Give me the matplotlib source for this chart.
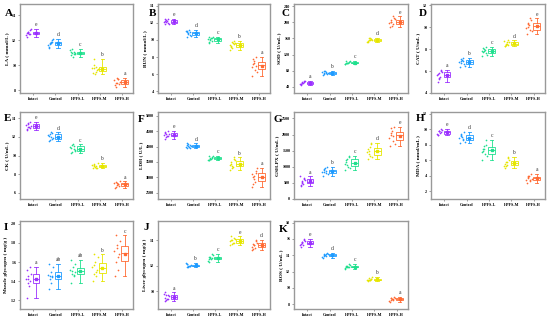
import matplotlib
matplotlib.use('Agg')
import matplotlib.pyplot as plt
import numpy as np

plt.rcParams['font.family'] = ['Liberation Serif', 'DejaVu Serif']
plt.rcParams['font.weight'] = 'bold'

groups = ['Intact', 'Control', 'HPFS-L', 'HPFS-M', 'HPFS-H']
colors = ['#9B30FF', '#1E9BFF', '#1FE08E', '#E6E600', '#FF6A33']

# values per panel, one list per group
la = [[12.3, 12.5, 12.6, 12.8, 12.4, 12.7, 12.9, 12.6, 12.5, 12.7],
      [11.5, 11.9, 11.7, 12.0, 11.6, 11.8, 12.1, 11.4, 11.9, 11.8],
      [10.8, 11.1, 11.0, 10.9, 11.2, 10.7, 11.0, 11.1, 10.9, 11.3],
      [9.4, 9.9, 10.5, 9.6, 9.8, 9.3, 9.7, 10.0, 9.5, 9.8],
      [8.4, 8.9, 8.6, 8.5, 8.8, 9.0, 8.7, 8.3, 8.9, 8.6]]
bun = [[11.9, 12.2, 12.4, 12.0, 12.1, 12.3, 11.9, 12.2, 12.5, 12.1],
       [10.4, 11.2, 10.9, 10.6, 11.0, 10.7, 10.5, 11.1, 10.9, 10.8],
       [9.8, 10.2, 10.4, 9.9, 10.1, 10.0, 10.3, 9.7, 10.2, 10.1],
       [8.8, 9.6, 9.2, 9.9, 9.4, 9.0, 9.7, 9.3, 9.5, 9.8],
       [5.8, 6.5, 7.2, 8.0, 6.8, 7.5, 6.2, 7.8, 6.9, 7.3]]
sod = [[44, 48, 52, 55, 47, 50, 53, 46, 51, 49],
       [70, 74, 78, 72, 76, 80, 73, 75, 77, 71],
       [96, 99, 103, 101, 97, 100, 104, 98, 102, 100],
       [150, 155, 160, 158, 152, 162, 156, 154, 159, 157],
       [188, 195, 205, 212, 198, 192, 208, 200, 215, 202]]
cat = [[5.0, 5.5, 5.8, 6.0, 5.6, 5.3, 5.9, 5.7, 6.1, 5.4],
       [6.4, 6.9, 7.1, 6.6, 6.8, 7.0, 6.5, 6.9, 7.2, 6.7],
       [7.4, 7.9, 8.1, 7.6, 7.8, 8.0, 7.5, 7.7, 8.2, 7.8],
       [8.3, 8.6, 8.5, 8.4, 8.7, 8.5, 8.6, 8.3, 8.8, 8.4],
       [9.4, 9.7, 10.3, 10.6, 9.9, 10.2, 9.6, 10.4, 10.8, 10.0]]
ck = [[12.8, 13.1, 13.4, 13.0, 13.3, 13.5, 13.2, 12.9, 13.6, 13.1],
      [11.6, 12.0, 12.3, 11.8, 12.2, 12.5, 11.9, 12.1, 12.4, 11.7],
      [10.3, 10.7, 11.1, 10.5, 10.9, 11.2, 10.6, 10.8, 11.0, 10.4],
      [8.6, 8.9, 9.1, 8.7, 9.0, 8.8, 9.2, 8.9, 8.6, 9.0],
      [6.5, 6.9, 7.1, 6.7, 7.0, 6.8, 7.2, 6.6, 6.9, 7.0]]
ldh = [[4250, 4350, 4450, 4500, 4380, 4300, 4420, 4480, 4350, 4400],
       [3950, 4000, 4100, 4050, 3980, 4080, 4020, 4060, 3960, 4030],
       [3550, 3600, 3680, 3650, 3580, 3620, 3700, 3570, 3640, 3610],
       [3250, 3350, 3500, 3650, 3400, 3300, 3550, 3450, 3600, 3380],
       [2700, 2850, 3000, 3200, 3100, 2950, 3300, 2800, 3150, 3050]]
gsh = [[400, 480, 550, 620, 700, 500, 580, 450, 650, 530],
       [700, 800, 900, 1000, 850, 950, 780, 920, 870, 830],
       [900, 1000, 1200, 1350, 1100, 1250, 950, 1150, 1300, 1050],
       [1250, 1350, 1500, 1700, 1450, 1600, 1300, 1550, 1750, 1400],
       [1650, 1800, 2000, 2250, 1900, 2100, 1700, 2200, 1950, 2050]]
mda = [[9.2, 9.5, 9.8, 10.0, 9.4, 9.7, 9.9, 9.3, 9.6, 9.8],
       [8.2, 8.6, 9.2, 9.6, 8.8, 9.0, 8.4, 9.4, 8.7, 9.1],
       [6.0, 6.8, 7.4, 8.6, 7.0, 7.8, 6.5, 7.2, 8.0, 7.5],
       [5.0, 5.4, 5.8, 6.3, 5.2, 5.7, 6.0, 5.5, 6.4, 5.3],
       [3.1, 3.4, 3.8, 4.2, 3.5, 3.9, 3.6, 4.0, 3.3, 3.7]]
muscle = [[1.22, 1.35, 1.38, 1.40, 1.42, 1.45, 1.48, 1.52, 1.55, 1.42],
          [1.32, 1.38, 1.42, 1.45, 1.47, 1.50, 1.55, 1.58, 1.44, 1.46],
          [1.38, 1.45, 1.48, 1.50, 1.52, 1.55, 1.58, 1.62, 1.47, 1.51],
          [1.40, 1.45, 1.48, 1.52, 1.55, 1.60, 1.65, 1.68, 1.50, 1.57],
          [1.46, 1.52, 1.60, 1.68, 1.72, 1.78, 1.82, 1.88, 1.65, 1.75]]
liver = [[9.2, 9.4, 9.5, 9.7, 9.8, 9.3, 9.6, 9.9, 9.4, 9.7],
         [11.9, 12.0, 12.1, 12.0, 12.2, 11.95, 12.05, 12.1, 12.0, 11.9],
         [12.3, 12.5, 12.7, 12.9, 12.4, 12.6, 12.8, 12.5, 12.6, 12.7],
         [13.6, 13.8, 14.0, 14.2, 13.9, 13.7, 14.1, 14.3, 13.8, 14.0],
         [13.2, 13.4, 13.7, 13.9, 13.5, 13.6, 13.8, 13.3, 14.0, 13.6]]
ros = [[15.0, 15.3, 15.6, 15.9, 15.2, 15.5, 15.8, 15.4, 16.0, 15.6],
       [13.7, 13.9, 14.1, 14.3, 13.8, 14.0, 14.2, 13.9, 14.1, 14.0],
       [12.3, 12.5, 12.7, 12.9, 12.4, 12.6, 12.8, 12.5, 12.6, 12.7],
       [10.8, 11.0, 11.2, 11.1, 10.9, 11.0, 11.3, 10.9, 11.1, 11.0],
       [8.3, 8.5, 8.7, 8.9, 8.4, 8.6, 8.8, 8.5, 8.6, 8.7]]

# letters of significance
sig_desc = ['e', 'd', 'c', 'b', 'a']
sig_asc = ['a', 'b', 'c', 'd', 'e']

panels = [
    ('A', la, 'LA ( mmol/L )', (7.8, 14.9), [8, 10, 12, 14], sig_desc),
    ('B', bun, 'BUN ( mmol/L )', (3.8, 14.2), [4, 6, 8, 10, 12, 14], sig_desc),
    ('C', sod, 'SOD ( U/mL )', (24, 246), [40, 80, 120, 160, 200, 240], sig_asc),
    ('D', cat, 'CAT ( U/mL )', (4.2, 12.1), [4, 6, 8, 10, 12], sig_asc),
    ('E', ck, 'CK ( U/mL )', (5.3, 14.7), [6, 8, 10, 12, 14], sig_desc),
    ('F', ldh, 'LDH ( U/L )', (2300, 5120), [2500, 3000, 3500, 4000, 4500, 5000], sig_desc),
    ('G', gsh, 'GSH-PX ( U/mL )', (0, 2700), [0, 500, 1000, 1500, 2000, 2500], sig_asc),
    ('H', mda, 'MDA ( nmol/mL )', (1.0, 12.2), [2, 4, 6, 8, 10, 12], sig_desc),
    ('I', muscle, 'Muscle glycogen ( mg/g )', (1.11, 2.03), [1.2, 1.4, 1.6, 1.8, 2.0],
     ['a', 'ab', 'ab', 'b', 'c']),
    ('J', liver, 'Liver glycogen ( mg/g )', (8.6, 15.5), [10, 12, 14], ['a', 'b', 'c', 'e', 'd']),
    ('K', ros, 'ROS ( U/mL )', (7.4, 18.2), [8, 10, 12, 14, 16, 18], sig_desc),
]

W, H = 550, 321
col_left = [20, 158, 294, 431]
col_right = [133, 270, 408, 545]
row_top = [4, 112, 221]
row_bot = [93, 199, 309]
# panel letter spots (pixels)
letter_xy = [(5, 13), (149, 13), (282, 13), (419, 13),
             (4, 119), (138, 120), (274, 120), (416, 119),
             (4, 228), (144, 228), (279, 229)]

# fixed horizontal spread of the dots
jit = [-0.30, -0.18, -0.26, -0.14, -0.34, -0.22, -0.10, -0.28, -0.16, -0.24]

fig = plt.figure(figsize=(5.5, 3.21), dpi=100)

for i, (tag, data, ylab, ylim, yticks, sig) in enumerate(panels):
    r, c = divmod(i, 4)
    x0, x1 = col_left[c] / W, col_right[c] / W
    y0, y1 = 1 - row_bot[r] / H, 1 - row_top[r] / H
    ax = fig.add_axes([x0, y0, x1 - x0, y1 - y0])
    pos = np.arange(len(groups))
    for g, vals in enumerate(data):
        col = colors[g]
        ax.scatter(pos[g] + np.array(jit), vals, s=1.5, color=col, zorder=3, linewidths=0)
        ax.boxplot([vals], positions=[pos[g] + 0.12], widths=0.3, patch_artist=True,
                   showfliers=False, whis=3.0,
                   boxprops=dict(facecolor='white', edgecolor=col, linewidth=0.6),
                   medianprops=dict(color=col, linewidth=0.6),
                   whiskerprops=dict(color=col, linewidth=0.6),
                   capprops=dict(color=col, linewidth=0.6))
        ax.plot(pos[g] + 0.12, np.mean(vals), marker='s', ms=1.8, color=col, zorder=4)
        top = max(vals)
        ax.text(pos[g] + 0.12, top + (ylim[1] - ylim[0]) * 0.02, sig[g], ha='center',
                va='bottom', fontsize=4, color='#333333', fontweight='normal')
    ax.set_xlim(-0.6, 4.5)
    ax.set_ylim(*ylim)
    ax.set_yticks(yticks)
    ax.set_xticks(pos)
    ax.set_xticklabels(groups, fontsize=3, fontweight='bold')
    ax.tick_params(axis='both', labelsize=3, length=1.2, width=0.4, pad=1.5, color='#555555')
    ax.set_ylabel(ylab, fontsize=3.8, fontweight='bold', labelpad=2)
    for sp in ax.spines.values():
        sp.set_color('#999999')
        sp.set_linewidth(1.0)
    lx, ly = letter_xy[i]
    fig.text(lx / W, 1 - ly / H, tag, fontsize=8, fontweight='bold', ha='left', va='center')

fig.savefig('out.png', dpi=100)
